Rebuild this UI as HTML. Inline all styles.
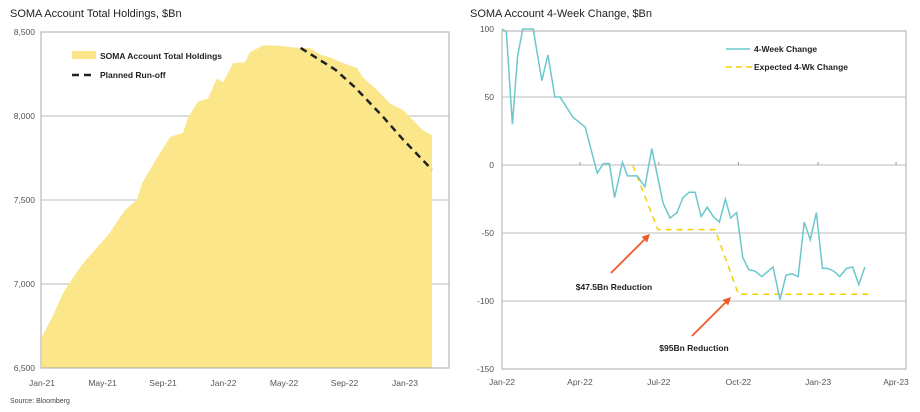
<!DOCTYPE html>
<html><head><meta charset="utf-8"><style>
body{margin:0;background:#fff;width:920px;height:407px;overflow:hidden;font-family:"Liberation Sans",sans-serif}
svg text{font-family:"Liberation Sans",sans-serif}
</style></head><body>
<svg id="c" width="920" height="407">
<text x="10" y="17" font-size="11" fill="#222">SOMA Account Total Holdings, $Bn</text>
<text x="470" y="17" font-size="11" fill="#222">SOMA Account 4-Week Change, $Bn</text>
<text x="10" y="403" font-size="7" fill="#444">Source: Bloomberg</text>
<g id="L"></g><g id="R"></g>
</svg>
<script>
// Left chart data
const holdMonths=[0,0.66,1.45,2.51,3.37,4.36,5.49,6.28,6.61,7.47,8.46,9.32,9.65,10.31,10.98,11.57,11.97,12.63,13.42,13.75,14.61,15.54,16.4,17.06,17.72,18.38,19.04,19.9,20.83,21.22,22.15,23.01,23.87,24.53,25.19,25.79];
const holdVals=[6685,6800,6955,7100,7190,7290,7440,7500,7600,7730,7875,7900,7990,8085,8105,8225,8200,8315,8320,8380,8420,8420,8410,8405,8405,8365,8350,8315,8285,8230,8155,8075,8035,7975,7915,7885];
const runMonths=[17.1,19.4,20.7,22.55,23.87,25.79];
const runVals=[8405,8275,8170,7995,7860,7680];
const leftYTicks=[6500,7000,7500,8000,8500];
const leftXLabels=["Jan-21","May-21","Sep-21","Jan-22","May-22","Sep-22","Jan-23"];
const leftXMonths=[0,4,8,12,16,20,24];
// Right chart data
const chgDays=[0,5,12,18,24,36,46,53,58,61,67,82,96,110,117,124,130,139,145,156,165,173,186,194,202,209,216,223,230,237,244,251,258,264,271,278,285,292,300,313,321,328,335,342,349,356,363,370,376,383,390,398,405,412,419];
const chgVals=[100,98,30,80,100,100,62,81,62,50,50,35,28,-6,1,1,-24,2,-8,-8,-16,12,-28,-39,-35,-24,-20,-20,-38,-31,-38,-42,-25,-39,-35,-68,-77,-78,-82,-75,-99,-81,-80,-82,-42,-55,-35,-76,-76,-78,-82,-76,-75,-88,-75];
const expDays=[151,180,246,273,427];
const expVals=[0,-47.5,-47.5,-95,-95];
const rightYTicks=[-150,-100,-50,0,50,100];
const rightXLabels=["Jan-22","Apr-22","Jul-22","Oct-22","Jan-23","Apr-23"];
const rightXDays=[0,90,181,273,365,455];

const NS="http://www.w3.org/2000/svg";
function mk(p,t,a,txt){const e=document.createElementNS(NS,t);for(const k in a)e.setAttribute(k,a[k]);if(txt!==undefined)e.textContent=txt;p.appendChild(e);return e;}

// LEFT
const L=document.getElementById('L');
const lx=m=>42+m*15.125, ly=v=>368-(v-6500)*84/500;
leftYTicks.forEach(v=>{if(v>6500&&v<8500){const g=mk(L,'line',{x1:41,x2:449,y1:ly(v),y2:ly(v),stroke:'#bbb','stroke-width':1});

}
const t=mk(L,'text',{x:35,y:ly(v)+3,'font-size':8.5,fill:'#555','text-anchor':'end'},v.toLocaleString('en-US'));

});
let d='M'+lx(holdMonths[0])+','+ly(6500);
holdMonths.forEach((m,i)=>{d+=' L'+lx(m)+','+ly(holdVals[i]);});
d+=' L'+lx(holdMonths[holdMonths.length-1])+','+ly(6500)+'Z';
const area=mk(L,'path',{d:d,fill:'#fbe689'});


const rl=mk(L,'polyline',{points:runMonths.map((m,i)=>lx(m)+','+ly(runVals[i])).join(' '),fill:'none',stroke:'#222','stroke-width':2.5,'stroke-dasharray':'7,5'});


const lf=mk(L,'rect',{x:41,y:32,width:408,height:336,fill:'none',stroke:'#aaa','stroke-width':1});


leftXLabels.forEach((s,i)=>{const t=mk(L,'text',{x:lx(leftXMonths[i]),y:386,'font-size':8.5,fill:'#555','text-anchor':'middle'},s);

});
const lg1=mk(L,'rect',{x:72,y:51,width:24,height:8,fill:'#fbe689'});


const lt1=mk(L,'text',{x:100,y:59,'font-size':8.5,'font-weight':'bold',fill:'#222'},'SOMA Account Total Holdings');


const lg2=mk(L,'line',{x1:72,x2:96,y1:75,y2:75,stroke:'#222','stroke-width':2.5,'stroke-dasharray':'7,5'});


const lt2=mk(L,'text',{x:100,y:78,'font-size':8.5,'font-weight':'bold',fill:'#222'},'Planned Run-off');



// RIGHT
const R=document.getElementById('R');
const rx=dd=>502+dd*0.866, ry=v=>165-v*1.36;
rightYTicks.forEach(v=>{if(v>-150&&v<100){const g=mk(R,'line',{x1:502,x2:906,y1:ry(v),y2:ry(v),stroke:'#bbb','stroke-width':1});

}
const t=mk(R,'text',{x:494,y:ry(v)+3,'font-size':8.5,fill:'#555','text-anchor':'end'},String(v));

});
rightXDays.forEach((dd,i)=>{if(i>0){const tk=mk(R,'line',{x1:rx(dd),x2:rx(dd),y1:ry(0),y2:ry(0)-3,stroke:'#999'});

}
const t=mk(R,'text',{x:rx(dd),y:385,'font-size':8.5,fill:'#555','text-anchor':'middle'},rightXLabels[i]);

});
const ex=mk(R,'polyline',{points:expDays.map((dd,i)=>rx(dd)+','+ry(expVals[i])).join(' '),fill:'none',stroke:'#f5d000','stroke-width':1.5,'stroke-dasharray':'6,5'});


const cl=mk(R,'polyline',{points:chgDays.map((dd,i)=>rx(dd)+','+ry(chgVals[i])).join(' '),fill:'none',stroke:'#6cc7cc','stroke-width':1.5});


const rf=mk(R,'rect',{x:502,y:31,width:404,height:338,fill:'none',stroke:'#aaa','stroke-width':1});


const rg1=mk(R,'line',{x1:726,x2:750,y1:49,y2:49,stroke:'#6cc7cc','stroke-width':1.5});


const rt1=mk(R,'text',{x:754,y:52,'font-size':8.5,'font-weight':'bold',fill:'#222'},'4-Week Change');


const rg2=mk(R,'line',{x1:726,x2:752,y1:67,y2:67,stroke:'#f5d000','stroke-width':1.5,'stroke-dasharray':'6,4'});


const rt2=mk(R,'text',{x:754,y:70,'font-size':8.5,'font-weight':'bold',fill:'#222'},'Expected 4-Wk Change');


function arrow(x1,y1,x2,y2,name){const a=Math.atan2(y2-y1,x2-x1);
const g=mk(R,'g',{});


mk(g,'line',{x1:x1,y1:y1,x2:x2-5*Math.cos(a),y2:y2-5*Math.sin(a),stroke:'#ef5a2a','stroke-width':1.8});
const p1=[x2-8*Math.cos(a)+4*Math.sin(a),y2-8*Math.sin(a)-4*Math.cos(a)],p2=[x2-8*Math.cos(a)-4*Math.sin(a),y2-8*Math.sin(a)+4*Math.cos(a)];
mk(g,'polygon',{points:x2+','+y2+' '+p1.join(',')+' '+p2.join(','),fill:'#ef5a2a'});}
arrow(611,273,650,234,'arrow-47-5bn');
arrow(692,336,731,297,'arrow-95bn');
const a1=mk(R,'text',{x:614,y:290,'font-size':8.5,'font-weight':'bold',fill:'#222','text-anchor':'middle'},'$47.5Bn Reduction');


const a2=mk(R,'text',{x:694,y:351,'font-size':8.5,'font-weight':'bold',fill:'#222','text-anchor':'middle'},'$95Bn Reduction');


</script>
</body></html>
